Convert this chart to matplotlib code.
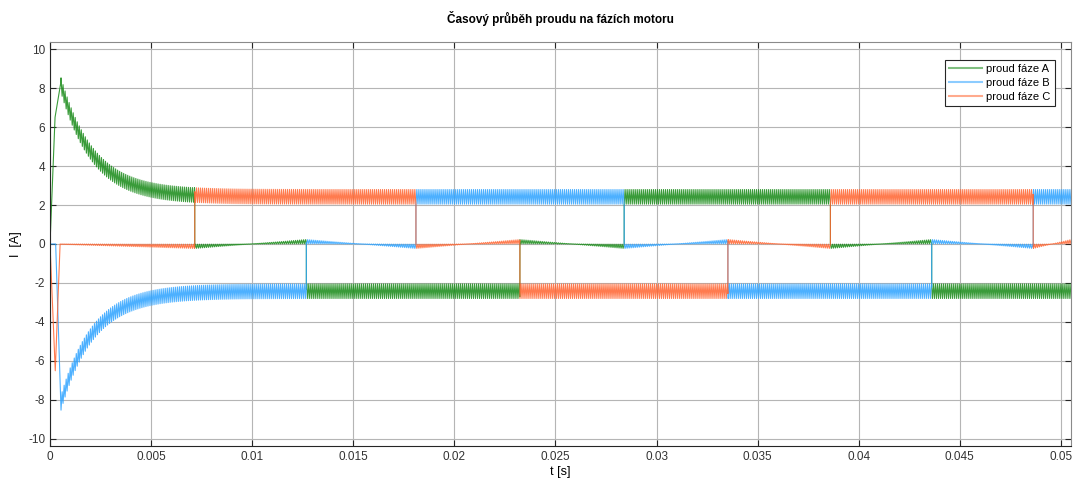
import numpy as np
import matplotlib
matplotlib.use("Agg")
import matplotlib.pyplot as plt
from matplotlib.ticker import FuncFormatter

# ---- data ---------------------------------------------------------------
# commutation instants [s]
commutation_t = [0.00716, 0.01268, 0.01810, 0.02324, 0.02840,
                 0.03353, 0.03860, 0.04361, 0.04863]
t_end = 0.0505

# phase state per commutation sector: H = high side, L = low side, F = floating
state_a = "HFLLFHHFLL"
state_b = "LLFHHFLLFH"
state_c = "FHHFLLFHHF"

# start-up transient (first PWM periods) [s], [A]
startup_t_a = [0.0, 0.00025, 0.00053]
startup_i_a = [0.0, 6.5, 8.25]
startup_t_b = [0.0, 0.00028, 0.00053]
startup_i_b = [0.0, 0.0, -8.2]
startup_t_c = [0.0, 0.00026, 0.00050]
startup_i_c = [0.0, -6.5, 0.0]

i_peak = 8.2          # inrush peak [A]
i_steady = 2.42       # mean phase current in conduction [A]
tau = 0.0016          # settling time constant of the inrush [s]
ripple_pp = 0.75      # PWM current ripple, peak-to-peak [A]
float_edge = 0.12     # floating phase current at sector edges [A]
pwm_period = 1e-4     # PWM period [s]
pwm_duty = 0.45

series_labels = ["proud fáze A", "proud fáze B", "proud fáze C"]
series_colors = ["#178a17", "#2ea3ff", "#ff6430"]

# ---- waveform construction ---------------------------------------------
t_s = 0.00053
k = np.arange(0, int(t_end / pwm_period) + 2)
edges = np.concatenate([k * pwm_period, (k + pwm_duty) * pwm_period])
comm = np.array(commutation_t)
grid = np.concatenate([edges, comm - 1e-7, comm])
grid = np.unique(grid[(grid > t_s) & (grid <= t_end)])


def saw(t):
    ph = (t % pwm_period) / pwm_period
    return np.where(ph < pwm_duty, ph / pwm_duty, (1 - ph) / (1 - pwm_duty))


def phase_current(states, t):
    sec = np.searchsorted(comm, t, side="right")
    bounds = np.concatenate([[0.0], comm, [t_end]])
    s = saw(t)
    level = i_steady + (i_peak - i_steady) * np.exp(-(t - t_s) / tau)
    out = np.zeros_like(t)
    for i, st in enumerate(states):
        m = sec == i
        if not m.any():
            continue
        tt = t[m]
        if st == "H":
            out[m] = level[m] + ripple_pp * (s[m] - 0.5)
        elif st == "L":
            out[m] = -(level[m] + ripple_pp * (s[m] - 0.5))
        else:
            t0, t1 = bounds[i], bounds[i + 1]
            u = (tt - t0) / (t1 - t0)
            prev = states[i - 1] if i > 0 else None
            if prev == "H":
                mid = -float_edge + 2 * float_edge * u
            elif prev == "L":
                mid = float_edge - 2 * float_edge * u
            else:
                mid = -float_edge * u
            out[m] = mid * (1 + 0.9 * (s[m] - 0.5) * 2)
    return out


traces = []
for st, ts, vs in [(state_a, startup_t_a, startup_i_a),
                   (state_b, startup_t_b, startup_i_b),
                   (state_c, startup_t_c, startup_i_c)]:
    tt = np.concatenate([ts, grid])
    ii = np.concatenate([vs, phase_current(st, grid)])
    traces.append((tt, ii))

# ---- figure -------------------------------------------------------------
plt.rcParams["font.family"] = ["Liberation Sans", "DejaVu Sans"]
plt.rcParams["font.size"] = 8
plt.rcParams["axes.unicode_minus"] = False

fig = plt.figure(figsize=(10.73, 4.82), dpi=100)
ax = fig.add_axes([50 / 1073, 36 / 482, 1021 / 1073, 404 / 482])

for (tt, ii), lab, col in zip(traces, series_labels, series_colors):
    ax.plot(tt, ii, color=col, lw=0.8, alpha=0.85, label=lab)

ax.set_xlim(0, t_end)
ax.set_ylim(-10.36, 10.36)
ax.set_xticks(np.arange(0, 0.0501, 0.005))
ax.set_yticks(np.arange(-10, 11, 2))
ax.xaxis.set_major_formatter(FuncFormatter(lambda v, p: "0" if abs(v) < 1e-12 else f"{v:g}"))
ax.grid(True, color="#b5b5b5", lw=0.8)
ax.tick_params(direction="in", length=4, top=True, right=True,
               colors="#262626", labelcolor="#333333", width=0.8, labelsize=8.5)
for side in ["left", "bottom"]:
    ax.spines[side].set_color("#262626")
    ax.spines[side].set_linewidth(0.8)
for side in ["top", "right"]:
    ax.spines[side].set_color("#8a8a8a")
    ax.spines[side].set_linewidth(0.8)

ax.set_title("Časový průběh proudu na fázích motoru", fontsize=8.5,
             fontweight="bold", pad=14)
ax.set_xlabel("t [s]", fontsize=9, labelpad=2)
ax.set_ylabel("I  [A]", fontsize=9, labelpad=4)

leg = ax.legend(loc="upper right", bbox_to_anchor=(0.984, 0.955),
                fancybox=False, framealpha=1, edgecolor="#262626",
                fontsize=8, handlelength=3.0, borderpad=0.35,
                labelspacing=0.35, handletextpad=0.4, borderaxespad=0)
leg.get_frame().set_linewidth(0.8)
for h in leg.get_lines():
    h.set_linewidth(1.5)
    h.set_alpha(0.55)

fig.savefig("out.png", dpi=100)
